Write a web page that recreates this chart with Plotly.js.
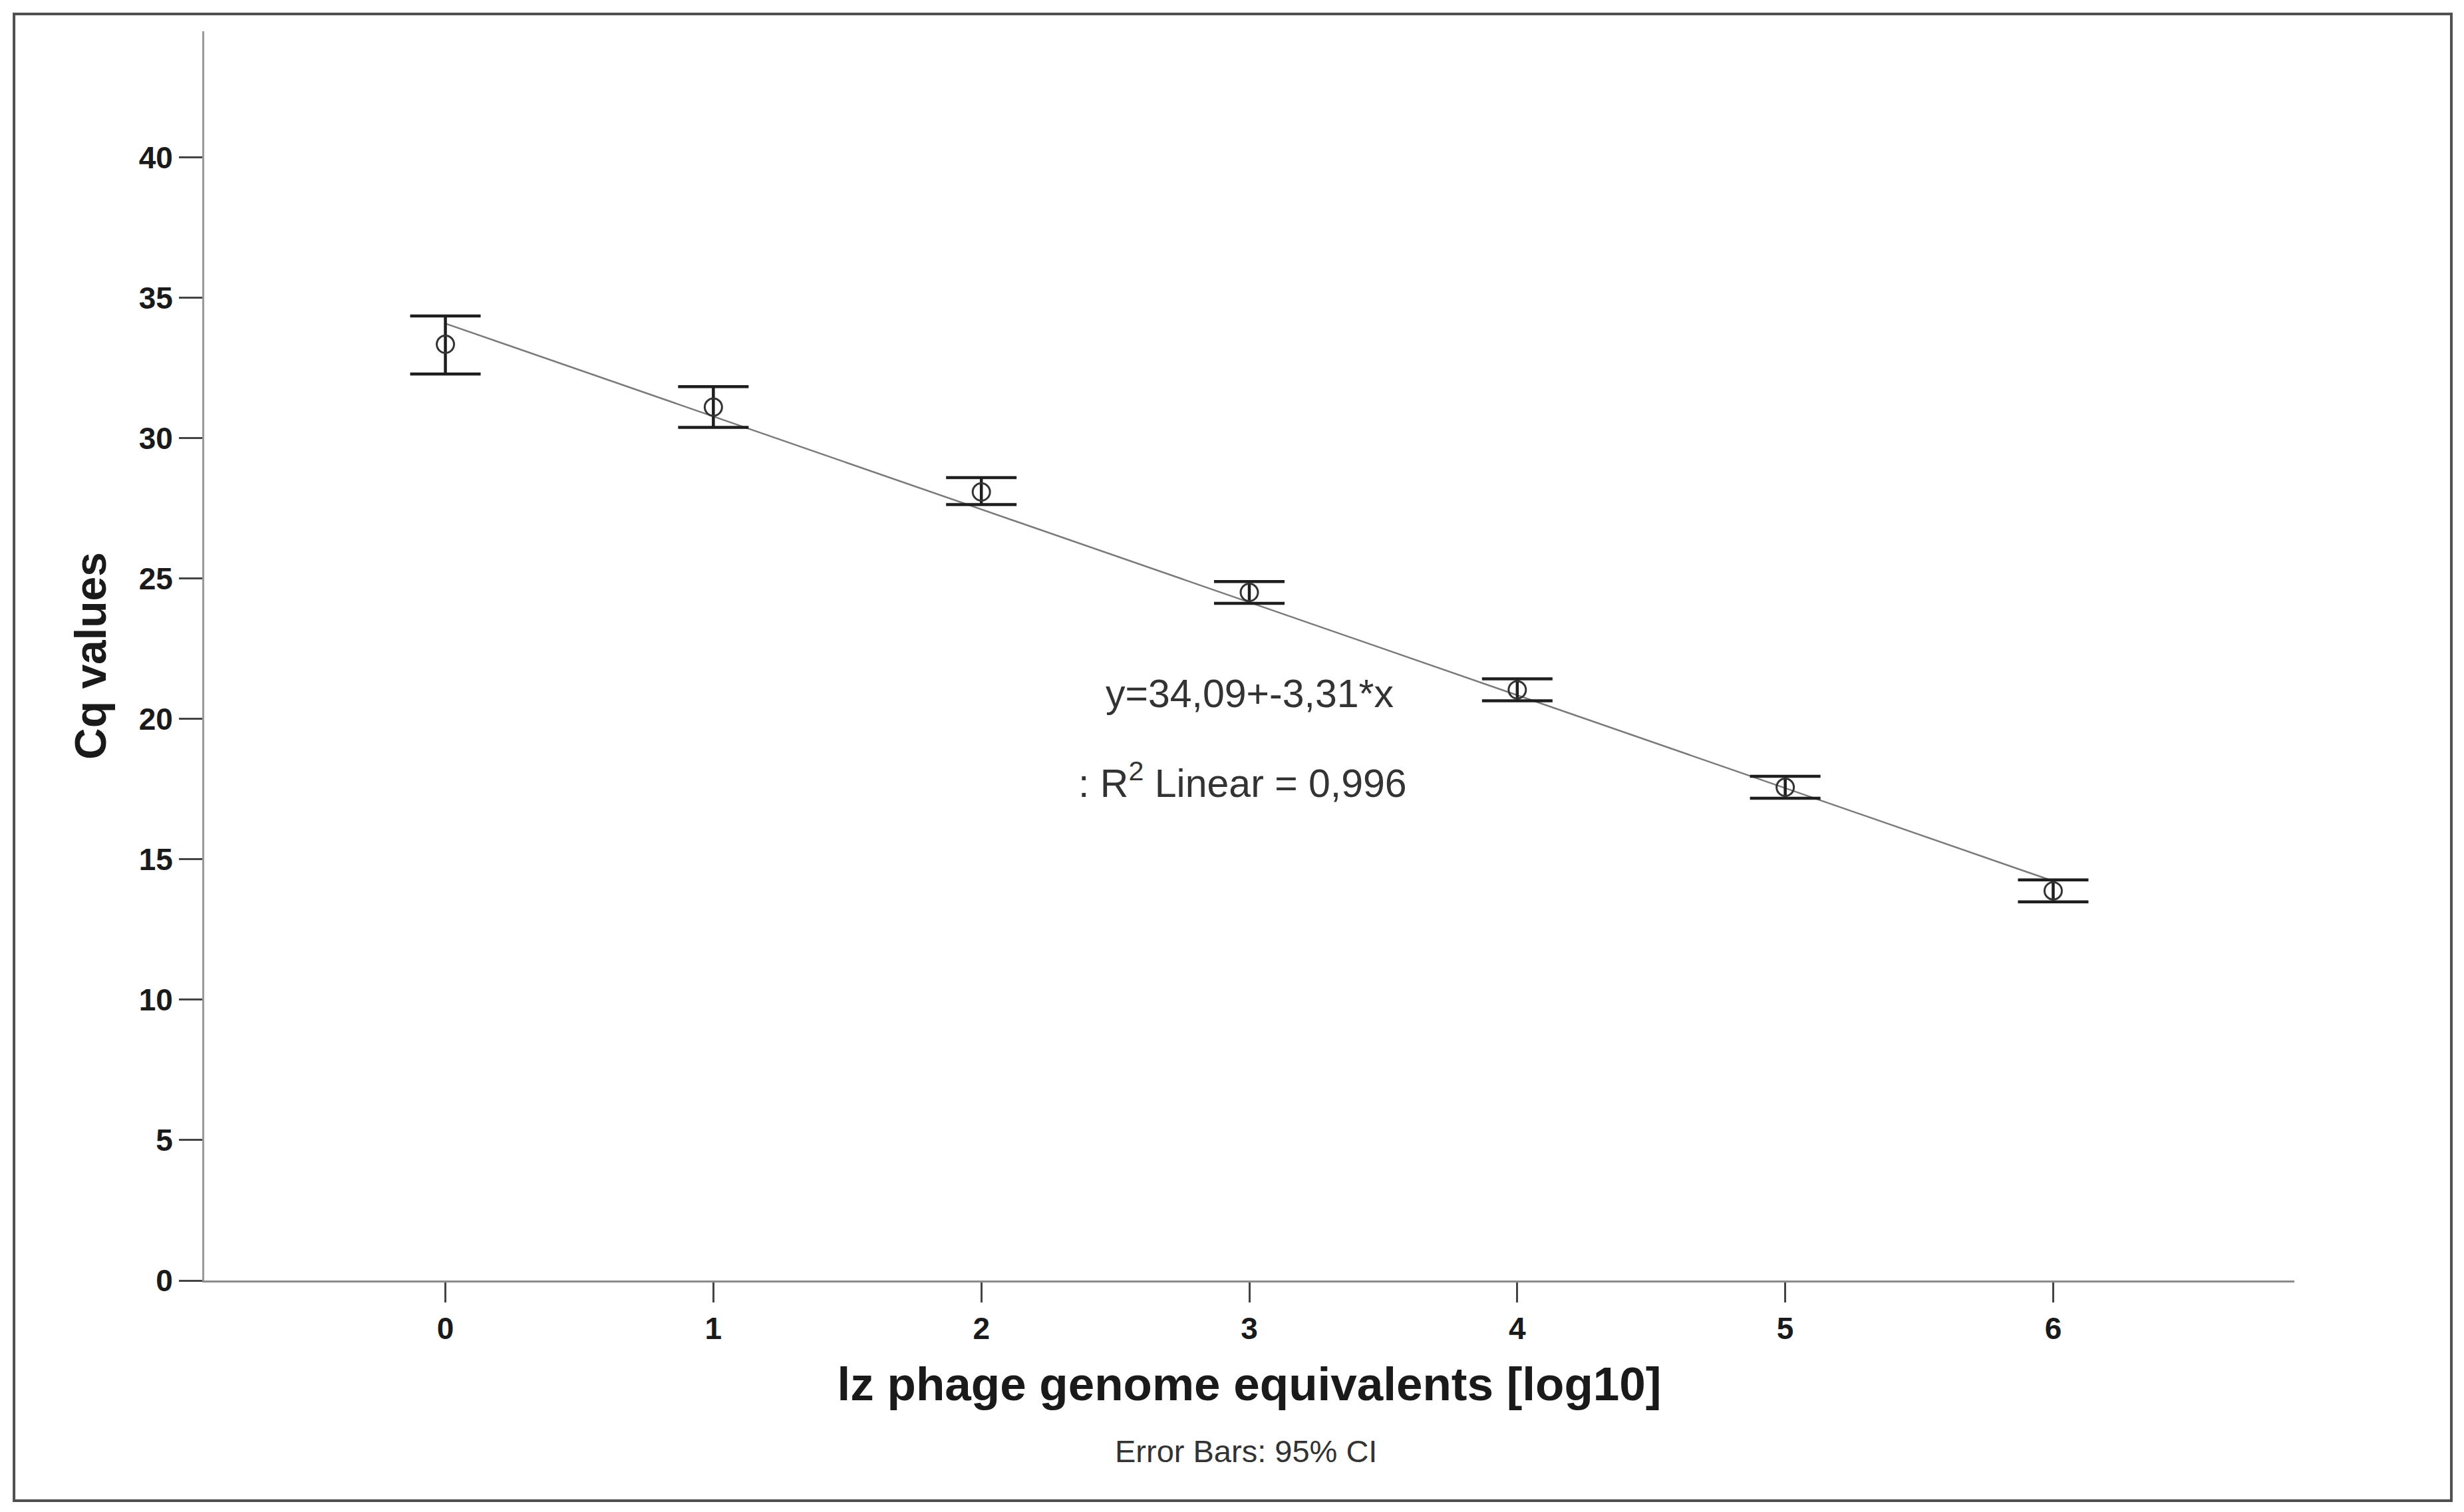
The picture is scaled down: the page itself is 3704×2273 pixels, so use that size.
<!DOCTYPE html>
<html>
<head>
<meta charset="utf-8">
<script src="https://cdn.plot.ly/plotly-3.0.1.min.js"></script>
<style>
  html, body { margin: 0; padding: 0; background: #ffffff; }
  #chart { width: 3704px; height: 2273px; }
</style>
</head>
<body>
<div id="chart"></div>
<script>
// log10 genome equivalents
const xLog = [0, 1, 2, 3, 4, 5, 6];
// mean Cq values
const cqMean = [33.35, 31.11, 28.09, 24.51, 21.04, 17.57, 13.88];
// 95% CI bounds
const ciHigh = [34.36, 31.84, 28.60, 24.90, 21.43, 17.96, 14.27];
const ciLow  = [32.29, 30.39, 27.64, 24.12, 20.65, 17.18, 13.49];
// linear fit line endpoints (y = 34.09 - 3.31x)
const fitX = [0, 6];
const fitY = [34.09, 14.23];
// tick labels
const xTicks = [0, 1, 2, 3, 4, 5, 6];
const yTicks = [0, 5, 10, 15, 20, 25, 30, 35, 40];

const errPlus = ciHigh.map((h, i) => h - cqMean[i]);
const errMinus = ciLow.map((l, i) => cqMean[i] - l);

const FONT = "Liberation Sans, Arial, Helvetica, sans-serif";

const traces = [
  {
    x: fitX, y: fitY, type: "scatter", mode: "lines",
    line: { color: "#7a7a7a", width: 2.5 },
    hoverinfo: "skip", showlegend: false
  },
  {
    x: xLog, y: cqMean, type: "scatter", mode: "markers",
    marker: { symbol: "circle-open", size: 26, color: "#333333", line: { color: "#333333", width: 3 } },
    error_y: {
      type: "data", symmetric: false, array: errPlus, arrayminus: errMinus,
      color: "#1e1e1e", thickness: 4.5, width: 53, visible: true
    },
    showlegend: false
  }
];

const layout = {
  width: 3704, height: 2273,
  paper_bgcolor: "#ffffff", plot_bgcolor: "#ffffff",
  margin: { l: 307, r: 255, t: 47, b: 348 },
  showlegend: false,
  font: { family: FONT, color: "#1a1a1a" },
  xaxis: {
    range: [-0.9, 6.9],
    tickvals: xTicks, ticktext: xTicks.map(String),
    showgrid: false, zeroline: false,
    showline: true, linecolor: "#8a8a8a", linewidth: 3,
    ticks: "outside", ticklen: 30, tickwidth: 3, tickcolor: "#444444",
    tickfont: { family: FONT, size: 46, color: "#1a1a1a", weight: "bold" },
    title: { text: "<b>lz phage genome equivalents [log10]</b>", font: { family: FONT, size: 71, color: "#1a1a1a" }, standoff: 34 }
  },
  yaxis: {
    range: [0, 44.5],
    tickvals: yTicks, ticktext: yTicks.map(String),
    showgrid: false, zeroline: false,
    showline: true, linecolor: "#9a9a9a", linewidth: 3,
    ticks: "outside", ticklen: 35, tickwidth: 3, tickcolor: "#444444",
    tickfont: { family: FONT, size: 46, color: "#1a1a1a", weight: "bold" },
    title: { text: "<b>Cq values</b>", font: { family: FONT, size: 66, color: "#1a1a1a" }, standoff: 28 }
  },
  shapes: [
    {
      type: "rect", xref: "paper", yref: "paper",
      x0: -0.091, x1: 1.0751, y0: -0.1763, y1: 1.0138,
      line: { color: "#505050", width: 4 }, fillcolor: "rgba(0,0,0,0)"
    }
  ],
  annotations: [
    {
      xref: "x", yref: "y", x: 3.0, y: 20.9, showarrow: false,
      text: "y=34,09+-3,31*x",
      font: { family: FONT, size: 59, color: "#333333" }
    },
    {
      xref: "x", yref: "y", x: 2.975, y: 17.8, showarrow: false,
      text: ": R<sup>2</sup> Linear = 0,996",
      font: { family: FONT, size: 59, color: "#333333" }
    },
    {
      xref: "paper", yref: "paper", x: 0.4983, y: -0.152, showarrow: false,
      text: "Error Bars: 95% CI",
      font: { family: FONT, size: 47, color: "#333333" }
    }
  ]
};

Plotly.newPlot("chart", traces, layout, { staticPlot: true, displayModeBar: false });
</script>
</body>
</html>
